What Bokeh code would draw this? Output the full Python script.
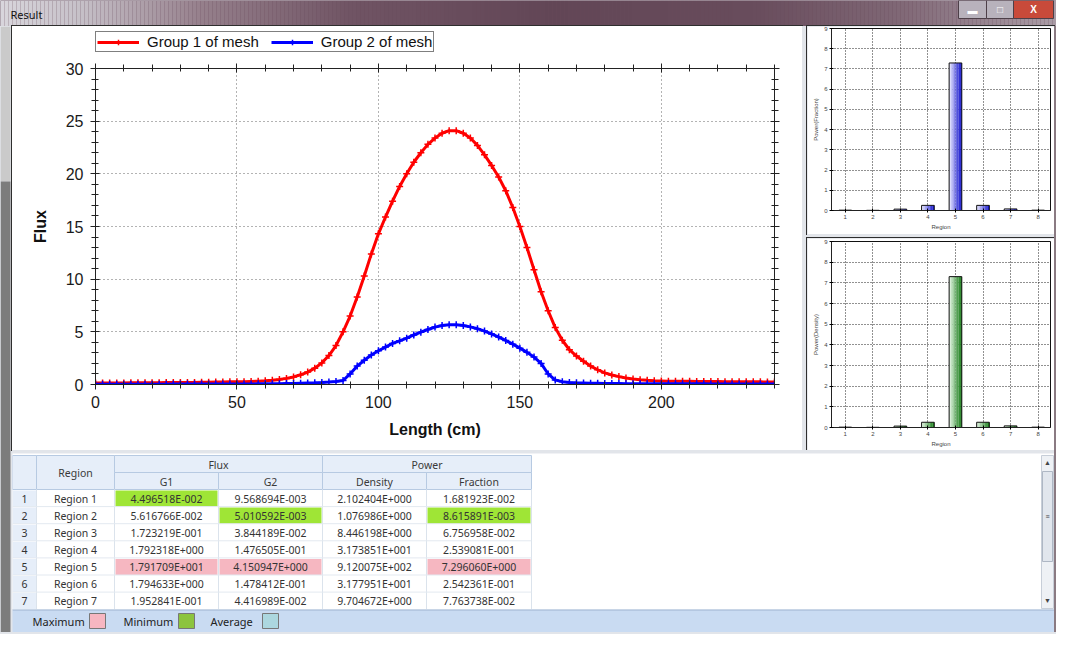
import numpy as np
from bokeh.plotting import figure
from bokeh.models import (Range1d, LinearAxis, FixedTicker, Legend, LegendItem,
                          Spacer, ColumnDataSource, CustomLabelingPolicy)
from bokeh.layouts import column, row
from bokeh.core.properties import value
from bokeh.transform import dodge
from bokeh.embed import file_html
from bokeh.resources import INLINE

# ------------------------------------------------------------------ data
length_cm = [i * 2.5 for i in range(97)]
flux_group1 = [0.15, 0.15, 0.15, 0.15, 0.15, 0.16, 0.16, 0.16, 0.17, 0.17,
               0.18, 0.18, 0.19, 0.20, 0.20, 0.21, 0.22, 0.23, 0.24, 0.25,
               0.26, 0.27, 0.29, 0.31, 0.35, 0.40, 0.48, 0.58, 0.72, 0.92,
               1.18, 1.55, 2.05, 2.75, 3.70, 5.00, 6.50, 8.30, 10.3, 12.4,
               14.3, 15.9, 17.4, 18.8, 20.0, 21.1, 22.0, 22.8, 23.4, 23.85,
               24.1, 24.1, 23.85, 23.4, 22.7, 21.8, 20.8, 19.7, 18.4, 16.8,
               15.0, 13.0, 10.9, 8.8, 7.0, 5.4, 4.2, 3.3, 2.7, 2.2,
               1.75, 1.4, 1.1, 0.9, 0.75, 0.62, 0.52, 0.45, 0.40, 0.36,
               0.34, 0.32, 0.31, 0.30, 0.30, 0.29, 0.29, 0.28, 0.28, 0.27,
               0.27, 0.26, 0.26, 0.25, 0.25, 0.24, 0.24]
flux_group2 = [0.03, 0.03, 0.03, 0.03, 0.03, 0.03, 0.03, 0.03, 0.03, 0.03,
               0.03, 0.04, 0.04, 0.04, 0.04, 0.04, 0.04, 0.04, 0.04, 0.04,
               0.04, 0.05, 0.05, 0.06, 0.06, 0.07, 0.08, 0.09, 0.10, 0.12,
               0.14, 0.16, 0.19, 0.23, 0.28, 0.38, 1.00, 1.75, 2.30, 2.80,
               3.20, 3.55, 3.90, 4.15, 4.40, 4.70, 4.97, 5.22, 5.45, 5.60,
               5.67, 5.67, 5.60, 5.47, 5.30, 5.07, 4.80, 4.50, 4.18, 3.83,
               3.45, 3.05, 2.60, 2.00, 1.00, 0.42, 0.27, 0.20, 0.16, 0.14,
               0.12, 0.11, 0.10, 0.09, 0.09, 0.08, 0.08, 0.08, 0.07, 0.07,
               0.07, 0.06, 0.06, 0.06, 0.06, 0.06, 0.06, 0.05, 0.05, 0.05,
               0.05, 0.05, 0.05, 0.05, 0.05, 0.05, 0.05]
series_labels = ["Group 1 of mesh", "Group 2 of mesh"]
x_ticks = [0, 50, 100, 150, 200]
y_ticks = [0, 5, 10, 15, 20, 25, 30]

bar_regions = [1, 2, 3, 4, 5, 6, 7, 8]
power_fraction_bars = [0.0168, 0.0086, 0.0676, 0.2539, 7.2961, 0.2542, 0.0776, 0.0168]
power_density_bars = [0.017, 0.009, 0.068, 0.254, 7.30, 0.254, 0.078, 0.017]
bar_y_ticks = [0, 1, 2, 3, 4, 5, 6, 7, 8, 9]

table_regions = ["Region 1", "Region 2", "Region 3", "Region 4",
                 "Region 5", "Region 6", "Region 7"]
flux_g1 = [4.496518E-02, 5.616766E-02, 1.723219E-01, 1.792318E+00,
           1.791709E+01, 1.794633E+00, 1.952841E-01]
flux_g2 = [9.568694E-03, 5.010592E-03, 3.844189E-02, 1.476505E-01,
           4.150947E+00, 1.478412E-01, 4.416989E-02]
power_density = [2.102404E+00, 1.076986E+00, 8.446198E+00, 3.173851E+01,
                 9.120075E+02, 3.177951E+01, 9.704672E+00]
power_fraction = [1.681923E-02, 8.615891E-03, 6.756958E-02, 2.539081E-01,
                  7.296060E+00, 2.542361E-01, 7.763738E-02]
group_headers = ["Flux", "Power"]
sub_headers = ["G1", "G2", "Density", "Fraction"]
highlight_columns = ["G1", "G2", "Fraction"]
legend_labels = ["Maximum", "Minimum", "Average"]

# ------------------------------------------------------------------ styles
GAP = "#e2e5ea"
PANEL_OUTLINE = {"outline": "1px solid #2e2e2e"}
AX_FONT = "Liberation Sans"
UI_FONT = "Noto Sans"
MAX_FILL = "#f6b7c1"
MIN_FILL = "#9fe536"
legend_colors = ["#f7b6c1", "#8cc43e", "#acd7df"]

NO_LABELS = CustomLabelingPolicy(code="""
    const ids = Array.from(indices)
    for (const i of ids) { indices.unset(i) }
    return indices
""")


def hexcol(rgb):
    return "#%02x%02x%02x" % tuple(int(round(v)) for v in rgb)


def ramp(c0, c1, n):
    return [hexcol([a + (b - a) * k / (n - 1) for a, b in zip(c0, c1)]) for k in range(n)]


def sci(v):
    m, e = f"{v:.6E}".split("E")
    ei = int(e)
    return f"{m}E{'+' if ei >= 0 else '-'}{abs(ei):03d}"


def blank(w, h, xr, yr, **kw):
    f = figure(width=w, height=h, x_range=Range1d(*xr), y_range=Range1d(*yr),
               output_backend="svg", toolbar_location=None, x_axis_type=None,
               y_axis_type=None, min_border=0, outline_line_color=None, **kw)
    f.grid.visible = False
    return f


# ------------------------------------------------------------------ title bar
W = 1056
title = blank(W, 26, (0, W), (26, 0))
title.background_fill_color = "#6a4d5c"
title.border_fill_color = "#6a4d5c"
stops_x = [0, 80, 200, 350, 550, 750, 900, W]
stops_c = [(216, 214, 220), (198, 192, 200), (150, 128, 140), (112, 84, 100),
           (98, 70, 86), (104, 76, 92), (128, 104, 118), (170, 156, 166)]
xs = np.arange(0, W, 4)
tcols = [hexcol([np.interp(x + 2, stops_x, [c[i] for c in stops_c]) for i in range(3)]) for x in xs]
title.quad(left=xs, right=xs + 4, top=0, bottom=26, fill_color=tcols, line_color=None)
title.text(x=[10], y=[14], text=["Result"], text_font=value(UI_FONT), text_font_size="11px",
           text_baseline="middle", text_color="#111")
title.quad(left=[958, 986], right=[986, 1013], top=[0, 0], bottom=[18, 18],
           fill_color=["#b8b2bc", "#b8b2bc"], line_color="#4d3f48")
title.quad(left=[1013], right=[1053], top=[0], bottom=[18], fill_color="#c84a3a", line_color="#4d3f48")
title.text(x=[972, 999.5, 1033], y=[10, 9, 9], text=["▬", "□", "X"], text_font=value(AX_FONT),
           text_font_size="10px", text_align="center", text_baseline="middle",
           text_color="white", text_font_style="bold")

# ------------------------------------------------------------------ main chart
src = ColumnDataSource(dict(x=length_cm, g1=flux_group1, g2=flux_group2))
p = figure(width=790, height=398, x_range=Range1d(0, 240), y_range=Range1d(0, 30),
           output_backend="svg", toolbar_location=None,
           min_border_left=83, min_border_right=28, min_border_top=8, min_border_bottom=66,
           background_fill_color="white", border_fill_color="white",
           outline_line_color="#222")
xt = FixedTicker(ticks=x_ticks, minor_ticks=list(range(0, 241, 10)))
yt = FixedTicker(ticks=y_ticks, minor_ticks=list(range(0, 31)))
p.xaxis.ticker = xt
p.yaxis.ticker = yt
p.xaxis.axis_label = "Length (cm)"
p.yaxis.axis_label = "Flux"
for ax in [p.xaxis[0], p.yaxis[0]]:
    ax.axis_label_text_font = AX_FONT
    ax.axis_label_text_font_style = "bold"
    ax.axis_label_text_font_size = "16px"
    ax.axis_label_text_color = "#111"
    ax.major_label_text_font = AX_FONT
    ax.major_label_text_font_size = "16px"
    ax.major_label_text_color = "#1a1a1a"
p.xaxis.major_label_standoff = 6
p.xaxis.axis_label_standoff = 10
p.yaxis.major_label_standoff = 7
p.yaxis.axis_label_standoff = 14
for loc, tk in [("right", yt), ("above", xt)]:
    p.add_layout(LinearAxis(ticker=tk, major_label_policy=NO_LABELS,
                            major_label_standoff=0), loc)
for ax in p.axis:
    ax.axis_line_color = "#222"
    ax.major_tick_line_color = "#222"
    ax.minor_tick_line_color = "#222"
    ax.major_tick_in = 4
    ax.major_tick_out = 5
    ax.minor_tick_in = 3
    ax.minor_tick_out = 4
for g in p.grid:
    g.grid_line_color = "#666"
    g.grid_line_dash = "1 3"
    g.grid_line_width = 1

line_style = dict(line_width=3)
mark_style = dict(marker="cross", size=7, line_width=1.5)
series = [("g1", "#ff0000"), ("g2", "#0000ff")]
for col, c in series:
    p.line("x", col, source=src, color=c, **line_style)
    p.scatter("x", col, source=src, color=c, **mark_style)

# legend strip above the plot frame (same series, drawn only as legend glyphs)
lf = blank(790, 26, (-20, -10), (-20, -10), min_border_left=83, min_border_right=28)
lf.background_fill_color = "white"
lf.border_fill_color = "white"
items = []
for (col, c), lab in zip(series, series_labels):
    lr = lf.line("x", col, source=src, color=c, **line_style)
    ls = lf.scatter("x", col, source=src, color=c, **mark_style)
    items.append(LegendItem(label=lab, renderers=[lr, ls]))
leg = Legend(items=items, location="bottom_left", orientation="horizontal",
             border_line_color="#000", border_line_width=1, background_fill_color="white",
             background_fill_alpha=1, label_text_font=AX_FONT, label_text_font_size="15px",
             label_text_color="#111", glyph_width=42, glyph_height=14, label_height=14,
             padding=1, spacing=12, margin=0, label_standoff=8)
lf.add_layout(leg)
main_panel = column(lf, p, spacing=0,
                    styles={"outline": "1px solid #2e2e2e", "background-color": "white"})


# ------------------------------------------------------------------ bar panels
def bar_panel(vals, ylabel, c_light, c_dark, h, tb, bb):
    b = figure(width=247, height=h, x_range=Range1d(0.5, 8.45), y_range=Range1d(0, 9),
               output_backend="svg", toolbar_location=None,
               min_border_left=24, min_border_right=4, min_border_top=tb, min_border_bottom=bb,
               background_fill_color="white", border_fill_color="white",
               outline_line_color="#111", styles=PANEL_OUTLINE)
    b.xaxis.ticker = FixedTicker(ticks=bar_regions)
    b.yaxis.ticker = FixedTicker(ticks=bar_y_ticks)
    b.xaxis.axis_label = "Region"
    b.yaxis.axis_label = ylabel
    for ax in b.axis:
        ax.major_label_text_font = AX_FONT
        ax.major_label_text_font_size = "6px"
        ax.axis_label_text_font = AX_FONT
        ax.axis_label_text_font_size = "6px"
        ax.axis_label_text_font_style = "normal"
        ax.axis_label_standoff = 2
        ax.major_label_standoff = 2
        ax.major_tick_in = 2
        ax.major_tick_out = 2
        ax.minor_tick_line_color = None
        ax.axis_line_color = "#222"
    for g in b.grid:
        g.grid_line_color = "#222"
        g.grid_line_dash = "1 2"
    bsrc = ColumnDataSource(dict(region=bar_regions, v=vals))
    w = 0.46
    n = 8
    cols = ramp(c_light, c_dark, n)
    for k, c in enumerate(cols):
        off = -w / 2 + (k + 0.5) * w / n
        b.vbar(x=dodge("region", off), top="v", width=w / n + 0.004, source=bsrc,
               fill_color=c, line_color=None)
    b.vbar(x="region", top="v", width=w, source=bsrc, fill_color=None,
           line_color="#111", line_width=1)
    return b


bar1 = bar_panel(power_fraction_bars, "Power(Fraction)", (225, 225, 255), (20, 20, 205), 208, 2, 24)
bar2 = bar_panel(power_density_bars, "Power(Density)", (220, 242, 220), (25, 125, 25), 212, 3, 23)

# ------------------------------------------------------------------ table
TW, TH = 1042, 156
tab = blank(TW, TH, (0, TW), (TH, 0))
tab.background_fill_color = "white"
tab.border_fill_color = "white"
edges = [0, 24, 102, 206, 310, 414, 519]
y0, y1, y2 = 2, 19, 36
row_h = 17.1
hdr = dict(left=[edges[0], edges[1], edges[2], edges[4], edges[2], edges[3], edges[4], edges[5]],
           right=[edges[1], edges[2], edges[4], edges[6], edges[3], edges[4], edges[5], edges[6]],
           top=[y0, y0, y0, y0, y1, y1, y1, y1],
           bottom=[y2, y2, y1, y1, y2, y2, y2, y2],
           label=["", "Region"] + group_headers + sub_headers)
hdr["cx"] = [(a + b) / 2 for a, b in zip(hdr["left"], hdr["right"])]
hdr["cy"] = [(a + b) / 2 + 0.5 for a, b in zip(hdr["top"], hdr["bottom"])]
hsrc = ColumnDataSource(hdr)
tab.quad(left="left", right="right", top="top", bottom="bottom", source=hsrc,
         fill_color="#e6eef9", line_color="#b7cae2", line_width=1)
tab.text(x="cx", y="cy", text="label", source=hsrc, text_font=value(UI_FONT),
         text_font_size="10.5px", text_align="center", text_baseline="middle", text_color="#3a3a3a")

col_vals = {"G1": flux_g1, "G2": flux_g2, "Density": power_density, "Fraction": power_fraction}
cells = dict(left=[], right=[], top=[], bottom=[], fill=[], cx=[], cy=[], text=[])
for r in range(len(table_regions)):
    t = y2 + r * row_h
    texts = [str(r + 1), table_regions[r]] + [sci(col_vals[h][r]) for h in sub_headers]
    for c in range(6):
        fill = "#e6eef9" if c == 0 else "white"
        if c >= 2:
            name = sub_headers[c - 2]
            if name in highlight_columns:
                vals = col_vals[name]
                if r == int(np.argmax(vals)):
                    fill = MAX_FILL
                elif r == int(np.argmin(vals)):
                    fill = MIN_FILL
        cells["left"].append(edges[c] + (0 if c < 2 else 1))
        cells["right"].append(edges[c + 1] - (0 if c < 2 else 1))
        cells["top"].append(t + 1)
        cells["bottom"].append(t + row_h)
        cells["fill"].append(fill)
        cells["cx"].append((edges[c] + edges[c + 1]) / 2)
        cells["cy"].append(t + row_h / 2 + 0.5)
        cells["text"].append(texts[c])
csrc = ColumnDataSource(cells)
tab.quad(left="left", right="right", top="top", bottom="bottom", source=csrc,
         fill_color="fill", line_color=None)
tab.segment(x0=edges[1:], y0=[y2] * 6, x1=edges[1:], y1=[TH] * 6, line_color="#dbe3ec", line_width=1)
rows_y = [y2 + k * row_h for k in range(1, len(table_regions))]
tab.segment(x0=[0] * len(rows_y), y0=rows_y, x1=[edges[-1]] * len(rows_y), y1=rows_y,
            line_color="#e3e9f0", line_width=1)
tab.text(x="cx", y="cy", text="text", source=csrc, text_font=value(UI_FONT),
         text_font_size="10.5px", text_align="center", text_baseline="middle", text_color="#333")
tab.quad(left=[1029], right=[1041], top=[2], bottom=[155], fill_color="#eef1f5", line_color="#c7ced8")
tab.quad(left=[1030], right=[1040], top=[18], bottom=[108], fill_color="#e1e6ed", line_color="#aeb7c4")
tab.text(x=[1035, 1035, 1035], y=[9, 147, 63], text=["▲", "▼", "≡"], text_font=value(AX_FONT),
         text_font_size="7px", text_align="center", text_baseline="middle", text_color="#444")

# ------------------------------------------------------------------ legend bar
lb = blank(TW, 23, (0, TW), (23, 0))
lb.background_fill_color = "#c9dbf2"
lb.border_fill_color = "#c9dbf2"
lsrc = ColumnDataSource(dict(label=legend_labels, color=legend_colors,
                             tx=[20, 111, 198], sx=[77, 166, 250]))
lb.text(x="tx", y=12, text="label", source=lsrc, text_font=value(UI_FONT), text_font_size="11px",
        text_baseline="middle", text_color="#222")
lb.quad(left="sx", right=dodge("sx", 16), top=4, bottom=19, source=lsrc,
        fill_color="color", line_color="#777")
lb.segment(x0=[0], y0=[0.5], x1=[TW], y1=[0.5], line_color="#9fb4cf")

# ------------------------------------------------------------------ frame pieces
strip = blank(12, 606, (0, 12), (606, 0))
strip.background_fill_color = GAP
strip.border_fill_color = GAP
strip.quad(left=[0, 0], right=[10, 10], top=[0, 155], bottom=[155, 606],
           fill_color=["#cacaca", "#7c7c7c"], line_color=None)

bottom = blank(W, 2, (0, W), (2, 0))
bottom.background_fill_color = "#8c6d63"
bottom.border_fill_color = "#8c6d63"

gap = {"background-color": GAP}
right_col = column(bar1, Spacer(width=247, height=4, styles=gap), bar2, spacing=0)
top_row = row(main_panel, Spacer(width=5, height=424, styles=gap), right_col, spacing=0)
inner = column(top_row, Spacer(width=TW, height=3, styles=gap), tab, lb, spacing=0)
mid = row(strip, inner, Spacer(width=2, height=606, styles={"background-color": "#8a7a82"}), spacing=0)
layout = column(title, mid, bottom, spacing=0, styles={"background-color": GAP})

open("out.html", "w").write(file_html(layout, INLINE))
